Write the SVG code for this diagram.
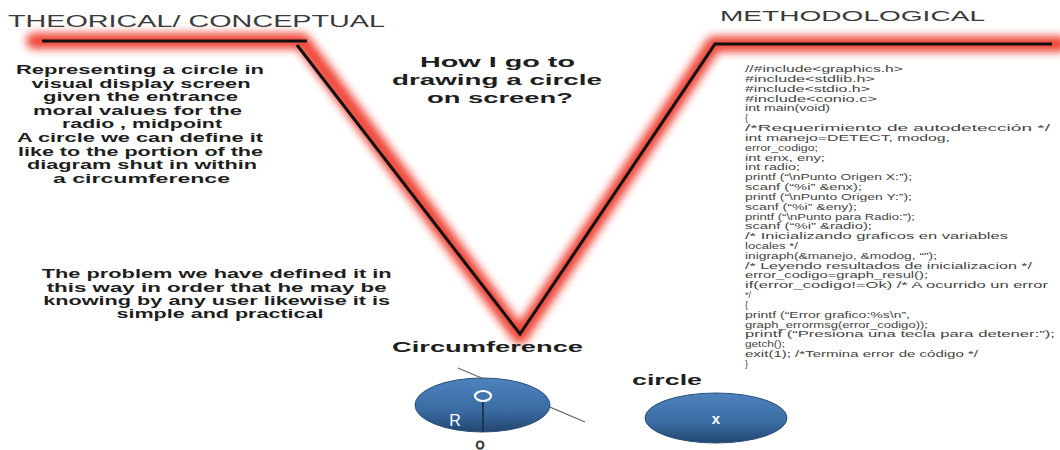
<svg xmlns="http://www.w3.org/2000/svg" width="1060" height="450" viewBox="0 0 1060 450">
<defs>
<filter id="glow" x="-10%" y="-20%" width="120%" height="140%"><feGaussianBlur stdDeviation="4.5"/></filter>
<linearGradient id="blue" x1="0" y1="0" x2="0" y2="1">
<stop offset="0" stop-color="#4f83bd"/><stop offset="0.6" stop-color="#3a6ba3"/><stop offset="1" stop-color="#23466f"/>
</linearGradient>
<style>
.title{font-family:"Liberation Sans",Arial,sans-serif;fill:#3a3a3a}
.bold{font-family:"Liberation Sans",Arial,sans-serif;font-weight:bold;fill:#1e1e1e;text-anchor:middle}
.code{font-family:"Liberation Sans",Arial,sans-serif;font-size:9px;fill:#444}
.glowline{fill:none;stroke:#ee3322;stroke-width:16;stroke-linejoin:round;stroke-linecap:round;opacity:0.9}
.blackline{fill:none;stroke:#111;stroke-width:3;stroke-linejoin:miter}
.wtext{font-family:"Liberation Sans",Arial,sans-serif;fill:#fff;text-anchor:middle}
</style>
</defs>
<rect width="1060" height="450" fill="#fff"/>

<g id="v-shape">
<path class="glowline" filter="url(#glow)" d="M34,41 L302,41 L520,336 L714,44 L1060,44"/>
</g>
<g id="connectors">
<path class="blackline" d="M42,41 H307"/>
<path class="blackline" d="M297,45 L520,334 L715,44 H1052"/>
<line x1="458" y1="368" x2="585" y2="422" stroke="#666" stroke-width="1.2"/>
</g>

<g id="title-left"><text class="title" x="8" y="26.5" font-size="17" textLength="377" lengthAdjust="spacingAndGlyphs">THEORICAL/  CONCEPTUAL</text></g>
<g id="title-right"><text class="title" x="720" y="21" font-size="14.5" textLength="265" lengthAdjust="spacingAndGlyphs">METHODOLOGICAL</text></g>

<g id="definition" font-size="12">
<text class="bold" x="140" y="74" textLength="248" lengthAdjust="spacingAndGlyphs">Representing a circle in</text>
<text class="bold" x="141" y="87.6" textLength="219" lengthAdjust="spacingAndGlyphs">visual display screen</text>
<text class="bold" x="140.5" y="101.2" textLength="195" lengthAdjust="spacingAndGlyphs">given the entrance</text>
<text class="bold" x="137.5" y="114.8" textLength="209" lengthAdjust="spacingAndGlyphs">moral values for the</text>
<text class="bold" x="142" y="128.4" textLength="160" lengthAdjust="spacingAndGlyphs">radio , midpoint</text>
<text class="bold" x="140" y="142" textLength="246" lengthAdjust="spacingAndGlyphs">A circle we can define it</text>
<text class="bold" x="140.5" y="155.6" textLength="245" lengthAdjust="spacingAndGlyphs">like to the portion of the</text>
<text class="bold" x="142" y="169.2" textLength="230" lengthAdjust="spacingAndGlyphs">diagram shut in within</text>
<text class="bold" x="141.5" y="182.8" textLength="177" lengthAdjust="spacingAndGlyphs">a circumference</text>
</g>

<g id="question" font-size="14.5">
<text class="bold" x="497.5" y="67.3" textLength="155" lengthAdjust="spacingAndGlyphs">How I  go to</text>
<text class="bold" x="497" y="85" textLength="210" lengthAdjust="spacingAndGlyphs">drawing a circle</text>
<text class="bold" x="500" y="102.7" textLength="146" lengthAdjust="spacingAndGlyphs">on screen?</text>
</g>

<g id="problem" font-size="12.5">
<text class="bold" x="216.7" y="278.3" textLength="350" lengthAdjust="spacingAndGlyphs">The problem we have defined it in</text>
<text class="bold" x="216.7" y="291.6" textLength="340" lengthAdjust="spacingAndGlyphs">this way in order that he may be</text>
<text class="bold" x="216.7" y="304.9" textLength="347" lengthAdjust="spacingAndGlyphs">knowing by any user likewise it is</text>
<text class="bold" x="220" y="318.2" textLength="207" lengthAdjust="spacingAndGlyphs">simple and practical</text>
</g>

<g id="code">
<text class="code" x="745" y="72" textLength="158" lengthAdjust="spacingAndGlyphs">//#include&lt;graphics.h&gt;</text>
<text class="code" x="745" y="81.8" textLength="130" lengthAdjust="spacingAndGlyphs">#include&lt;stdlib.h&gt;</text>
<text class="code" x="745" y="91.7" textLength="125" lengthAdjust="spacingAndGlyphs">#include&lt;stdio.h&gt;</text>
<text class="code" x="745" y="101.5" textLength="132" lengthAdjust="spacingAndGlyphs">#include&lt;conio.c&gt;</text>
<text class="code" x="745" y="111.3" textLength="85" lengthAdjust="spacingAndGlyphs">int main(void)</text>
<text class="code" x="745" y="121.2">{</text>
<text class="code" x="745" y="131" textLength="305" lengthAdjust="spacingAndGlyphs">/*Requerimiento de autodetección */</text>
<text class="code" x="745" y="140.8" textLength="205" lengthAdjust="spacingAndGlyphs">int manejo=DETECT, modog,</text>
<text class="code" x="745" y="150.6" textLength="73" lengthAdjust="spacingAndGlyphs">error_codigo;</text>
<text class="code" x="745" y="160.5" textLength="80" lengthAdjust="spacingAndGlyphs">int enx, eny;</text>
<text class="code" x="745" y="170.3" textLength="55" lengthAdjust="spacingAndGlyphs">int radio;</text>
<text class="code" x="745" y="180.1" textLength="167" lengthAdjust="spacingAndGlyphs">printf (“\nPunto Origen X:”);</text>
<text class="code" x="745" y="190" textLength="117" lengthAdjust="spacingAndGlyphs">scanf (“%i” &amp;enx);</text>
<text class="code" x="745" y="199.8" textLength="167" lengthAdjust="spacingAndGlyphs">printf (“\nPunto Origen Y:”);</text>
<text class="code" x="745" y="209.6" textLength="112" lengthAdjust="spacingAndGlyphs">scanf (“%i” &amp;eny);</text>
<text class="code" x="745" y="219.5" textLength="170" lengthAdjust="spacingAndGlyphs">printf (“\nPunto para Radio:”);</text>
<text class="code" x="745" y="229.3" textLength="127" lengthAdjust="spacingAndGlyphs">scanf (“%i” &amp;radio);</text>
<text class="code" x="745" y="239.1" textLength="263" lengthAdjust="spacingAndGlyphs">/* Inicializando  graficos en variables</text>
<text class="code" x="745" y="248.9" textLength="53" lengthAdjust="spacingAndGlyphs">locales */</text>
<text class="code" x="745" y="258.8" textLength="192" lengthAdjust="spacingAndGlyphs">inigraph(&amp;manejo, &amp;modog, “”);</text>
<text class="code" x="745" y="268.6" textLength="287" lengthAdjust="spacingAndGlyphs">/* Leyendo resultados de inicializacion */</text>
<text class="code" x="745" y="278.4" textLength="183" lengthAdjust="spacingAndGlyphs">error_codigo=graph_resul();</text>
<text class="code" x="745" y="288.3" textLength="303" lengthAdjust="spacingAndGlyphs">if(error_codigo!=Ok) /* A ocurrido un error</text>
<text class="code" x="745" y="298.1">*/</text>
<text class="code" x="745" y="307.9">{</text>
<text class="code" x="745" y="317.8" textLength="165" lengthAdjust="spacingAndGlyphs">printf (“Error grafico:%s\n”,</text>
<text class="code" x="745" y="327.6" textLength="183" lengthAdjust="spacingAndGlyphs">graph_errormsg(error_codigo));</text>
<text class="code" x="745" y="337.4" textLength="310" lengthAdjust="spacingAndGlyphs">printf (“Presiona una tecla para detener:”);</text>
<text class="code" x="745" y="347.2" textLength="40" lengthAdjust="spacingAndGlyphs">getch();</text>
<text class="code" x="745" y="357.1" textLength="233" lengthAdjust="spacingAndGlyphs">exit(1); /*Termina  error de código */</text>
<text class="code" x="745" y="366.9">}</text>
</g>

<g id="circumference">
<text class="bold" x="487.5" y="352" font-size="15.5" textLength="191" lengthAdjust="spacingAndGlyphs">Circumference</text>
<ellipse cx="482.5" cy="405" rx="67.5" ry="27" fill="url(#blue)" stroke="#2a4f7a" stroke-width="1"/>
<line x1="483" y1="402" x2="483" y2="432" stroke="#1f3550" stroke-width="2"/>
<ellipse cx="483" cy="396" rx="8" ry="5" fill="none" stroke="#fff" stroke-width="2.2"/>
<text class="wtext" x="455" y="426" font-size="16">R</text>
<text x="480" y="449" font-family="Liberation Sans, Arial, sans-serif" font-size="11" fill="none" stroke="#333" stroke-width="1" text-anchor="middle">O</text>
</g>

<g id="circle">
<text class="bold" x="667" y="385" font-size="15" textLength="70" lengthAdjust="spacingAndGlyphs">circle</text>
<ellipse cx="716" cy="418" rx="71" ry="25" fill="url(#blue)" stroke="#2a4f7a" stroke-width="1"/>
<text class="wtext" x="716" y="424" font-size="15" font-weight="bold">x</text>
</g>
</svg>
